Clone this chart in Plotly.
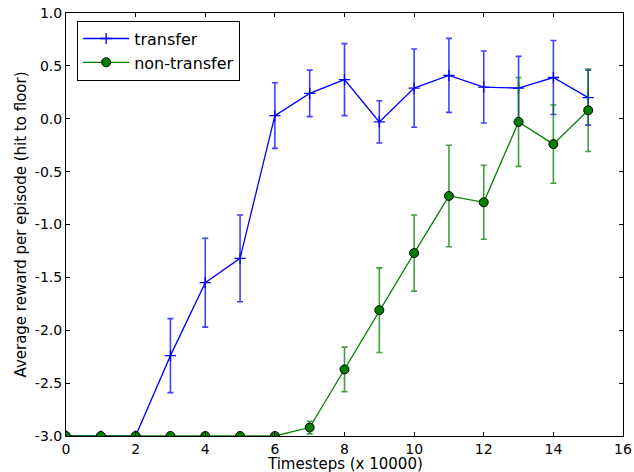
import plotly.graph_objects as go

# Data
steps = [0, 1, 2, 3, 4, 5, 6, 7, 8, 9, 10, 11, 12, 13, 14, 15]
transfer = [-3.0, -3.0, -3.0, -2.24, -1.55, -1.32, 0.03, 0.24, 0.37, -0.03, 0.29, 0.41, 0.30, 0.29, 0.39, 0.20]
transfer_err = [0, 0, 0, 0.35, 0.42, 0.41, 0.31, 0.22, 0.34, 0.20, 0.37, 0.35, 0.34, 0.30, 0.35, 0.26]
non_transfer = [-3.0, -3.0, -3.0, -3.0, -3.0, -3.0, -3.0, -2.92, -2.37, -1.81, -1.27, -0.73, -0.79, -0.03, -0.24, 0.08]
non_transfer_err = [0, 0, 0, 0, 0, 0, 0, 0.06, 0.21, 0.40, 0.36, 0.48, 0.35, 0.42, 0.37, 0.39]

x_ticks = [0, 2, 4, 6, 8, 10, 12, 14, 16]
y_ticks = [-3.0, -2.5, -2.0, -1.5, -1.0, -0.5, 0.0, 0.5, 1.0]
y_tick_labels = ["-3.0", "-2.5", "-2.0", "-1.5", "-1.0", "-0.5", "0.0", "0.5", "1.0"]

x_title = "Timesteps (x 10000)"
y_title = "Average reward per episode (hit to floor)"

FONT = "DejaVu Sans"

fig = go.Figure()
fig.add_trace(go.Scatter(
    x=steps, y=transfer, name="transfer", mode="lines+markers",
    line=dict(color="#0000ff", width=1.3),
    marker=dict(symbol="cross-thin", size=8, line=dict(color="#0000ff", width=1.3)),
    error_y=dict(type="data", array=transfer_err, visible=True,
                 color="rgba(0,0,255,0.75)", thickness=1.6, width=3),
))
fig.add_trace(go.Scatter(
    x=steps, y=non_transfer, name="non-transfer", mode="lines+markers",
    line=dict(color="#008000", width=1.3),
    marker=dict(symbol="circle", size=9, color="#008000", line=dict(color="black", width=1)),
    error_y=dict(type="data", array=non_transfer_err, visible=True,
                 color="rgba(0,128,0,0.75)", thickness=1.6, width=3),
))

axis_common = dict(
    showline=True, linecolor="black", linewidth=1, mirror="ticks",
    ticks="inside", ticklen=4, tickcolor="black", showgrid=False, zeroline=False,
    tickfont=dict(family=FONT, size=14, color="black"), automargin=False,
)

fig.update_xaxes(range=[0, 16], tickvals=x_ticks, ticktext=[str(v) for v in x_ticks], **axis_common)
fig.update_yaxes(range=[-3, 1], tickvals=y_ticks, ticktext=y_tick_labels, **axis_common)

# axis titles placed as annotations for exact positioning
fig.add_annotation(text=x_title, xref="paper", yref="paper", x=0.5, y=0, yshift=-28,
                   yanchor="middle", showarrow=False,
                   font=dict(family=FONT, size=15, color="black"))
fig.add_annotation(text=y_title, xref="paper", yref="paper", x=0, y=0.5, xshift=-46,
                   xanchor="center", yanchor="middle", textangle=-90, showarrow=False,
                   font=dict(family=FONT, size=15, color="black"))

fig.update_layout(
    width=634, height=472,
    margin=dict(l=66, r=11, t=13, b=36),
    plot_bgcolor="white", paper_bgcolor="white",
    font=dict(family=FONT, size=14, color="black"),
    legend=dict(x=0.02, y=0.982, xanchor="left", yanchor="top",
                bordercolor="black", borderwidth=1, bgcolor="white",
                font=dict(family=FONT, size=16, color="black"),
                tracegroupgap=0, itemwidth=46),
    showlegend=True,
)

fig.write_html("out.html", config={"displayModeBar": False},
               post_script="document.body.style.margin='0';")
